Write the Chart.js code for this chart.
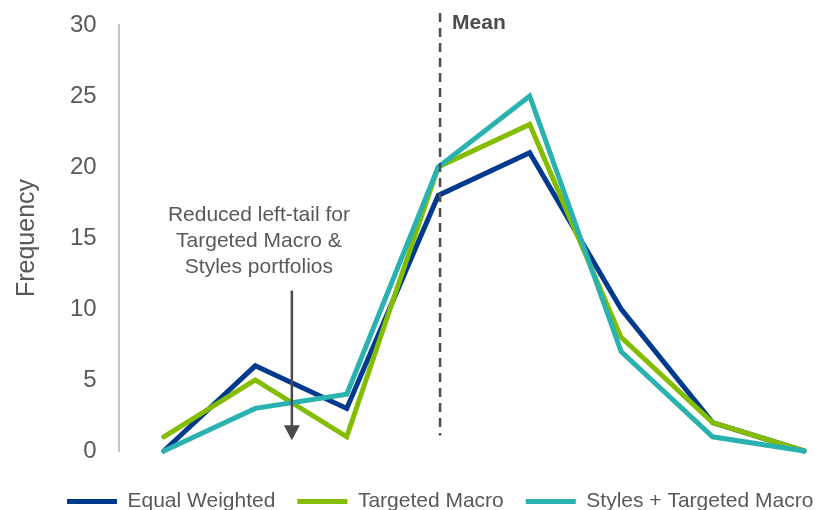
<!DOCTYPE html>
<html>
<head>
<meta charset="utf-8">
<script src="https://cdn.jsdelivr.net/npm/chart.js@4/dist/chart.umd.min.js"></script>
<style>
  html, body { margin: 0; padding: 0; background: #fff; }
  #chart { display: block; }
</style>
</head>
<body>
<canvas id="chart" width="821" height="510"></canvas>
<script>
// bins (no labels shown on the x axis)
const bins = [1, 2, 3, 4, 5, 6, 7, 8];
const equalWeighted = [0, 6, 3, 18, 21, 10, 2, 0];
const targetedMacro = [1, 5, 1, 20, 23, 8, 2, 0];
const stylesTargeted = [0, 3, 4, 20, 25, 7, 1, 0];
const seriesNames = ["Equal Weighted", "Targeted Macro", "Styles + Targeted Macro"];
const yTicks = [0, 5, 10, 15, 20, 25, 30];

// annotations, in data units
const meanX = 4.02;
const meanSpan = [1.1, 30.85];
const noteLines = ["Reduced left-tail for", "Targeted Macro &", "Styles portfolios"];
const noteX = 2.04;
const noteY = 16.6;
const arrowX = 2.40;
const arrowSpan = [11.3, 0.75];

const textColor = "#595959";
const FONT = "Arial, 'Liberation Sans', sans-serif";

const toPoints = (vals) => vals.map((v, i) => ({ x: bins[i], y: v }));

const annotations = {
  id: "annotations",
  afterLayout(chart) {
    // legend sits a bit right and low in the original
    chart.legend.left += 33;
    chart.legend.right += 33;
    chart.legend.top += 18;
    chart.legend.bottom += 18;
  },
  afterDatasetsDraw(chart) {
    const ctx = chart.ctx;
    const xs = chart.scales.x;
    const ys = chart.scales.y;
    ctx.save();
    // mean line
    const mx = xs.getPixelForValue(meanX);
    ctx.strokeStyle = "#4d4d4d";
    ctx.lineWidth = 2.5;
    ctx.setLineDash([9, 6]);
    ctx.beginPath();
    ctx.moveTo(mx, ys.getPixelForValue(meanSpan[1]));
    ctx.lineTo(mx, ys.getPixelForValue(meanSpan[0]));
    ctx.stroke();
    ctx.setLineDash([]);
    ctx.fillStyle = "#4d4d4d";
    ctx.font = "bold 21px " + FONT;
    ctx.textAlign = "left";
    ctx.textBaseline = "middle";
    ctx.fillText("Mean", mx + 12, ys.getPixelForValue(meanSpan[1]) + 10);

    // note text
    ctx.fillStyle = textColor;
    ctx.font = "21px " + FONT;
    ctx.textAlign = "center";
    const nx = xs.getPixelForValue(noteX);
    const ny = ys.getPixelForValue(noteY);
    noteLines.forEach((t, i) => ctx.fillText(t, nx, ny + i * 26));

    // arrow
    const ax = xs.getPixelForValue(arrowX);
    const y0 = ys.getPixelForValue(arrowSpan[0]);
    const y1 = ys.getPixelForValue(arrowSpan[1]);
    ctx.strokeStyle = "#4a4a4d";
    ctx.fillStyle = "#4a4a4d";
    ctx.lineWidth = 2.5;
    ctx.beginPath();
    ctx.moveTo(ax, y0);
    ctx.lineTo(ax, y1 - 12);
    ctx.stroke();
    ctx.beginPath();
    ctx.moveTo(ax - 8, y1 - 15);
    ctx.lineTo(ax + 8, y1 - 15);
    ctx.lineTo(ax, y1);
    ctx.closePath();
    ctx.fill();
    ctx.restore();
  },
};

const line = (label, vals, color, order) => ({
  label: label,
  data: toPoints(vals),
  borderColor: color,
  backgroundColor: color,
  borderWidth: 5,
  borderCapStyle: "round",
  borderJoinStyle: "miter",
  pointRadius: 0,
  pointStyle: "line",
  tension: 0,
  order: order,
  clip: false,
});

new Chart(document.getElementById("chart"), {
  type: "line",
  data: {
    datasets: [
      line(seriesNames[0], equalWeighted, "#003A8F", 2),
      line(seriesNames[1], targetedMacro, "#84BD00", 1),
      line(seriesNames[2], stylesTargeted, "#2AB2B0", 0),
    ],
  },
  options: {
    responsive: false,
    animation: false,
    layout: { autoPadding: false, padding: { left: 12, right: 5, top: 25, bottom: 6 } },
    scales: {
      x: {
        type: "linear",
        min: 0.507,
        max: 8.13,
        display: false,
      },
      y: {
        min: 0,
        max: 30,
        afterBuildTicks: (scale) => {
          scale.ticks = yTicks.map((v) => ({ value: v }));
        },
        afterFit: (scale) => {
          scale.paddingTop = 0;
          scale.paddingBottom = 0;
        },
        grid: { display: false, drawTicks: false },
        border: { display: true, color: "#c4c4c4", width: 2 },
        ticks: {
          color: textColor,
          font: { family: FONT, size: 24 },
          padding: 22,
        },
        title: {
          display: true,
          text: "Frequency",
          color: textColor,
          font: { family: FONT, size: 25 },
          padding: { top: 0, bottom: 6 },
        },
      },
    },
    plugins: {
      legend: {
        position: "bottom",
        align: "start",
        labels: {
          usePointStyle: true,
          pointStyleWidth: 50,
          boxHeight: 5,
          color: textColor,
          font: { family: FONT, size: 21 },
          padding: 22,
          sort: (a, b) => a.datasetIndex - b.datasetIndex,
        },
      },
      tooltip: { enabled: false },
    },
  },
  plugins: [annotations],
});
</script>
</body>
</html>
